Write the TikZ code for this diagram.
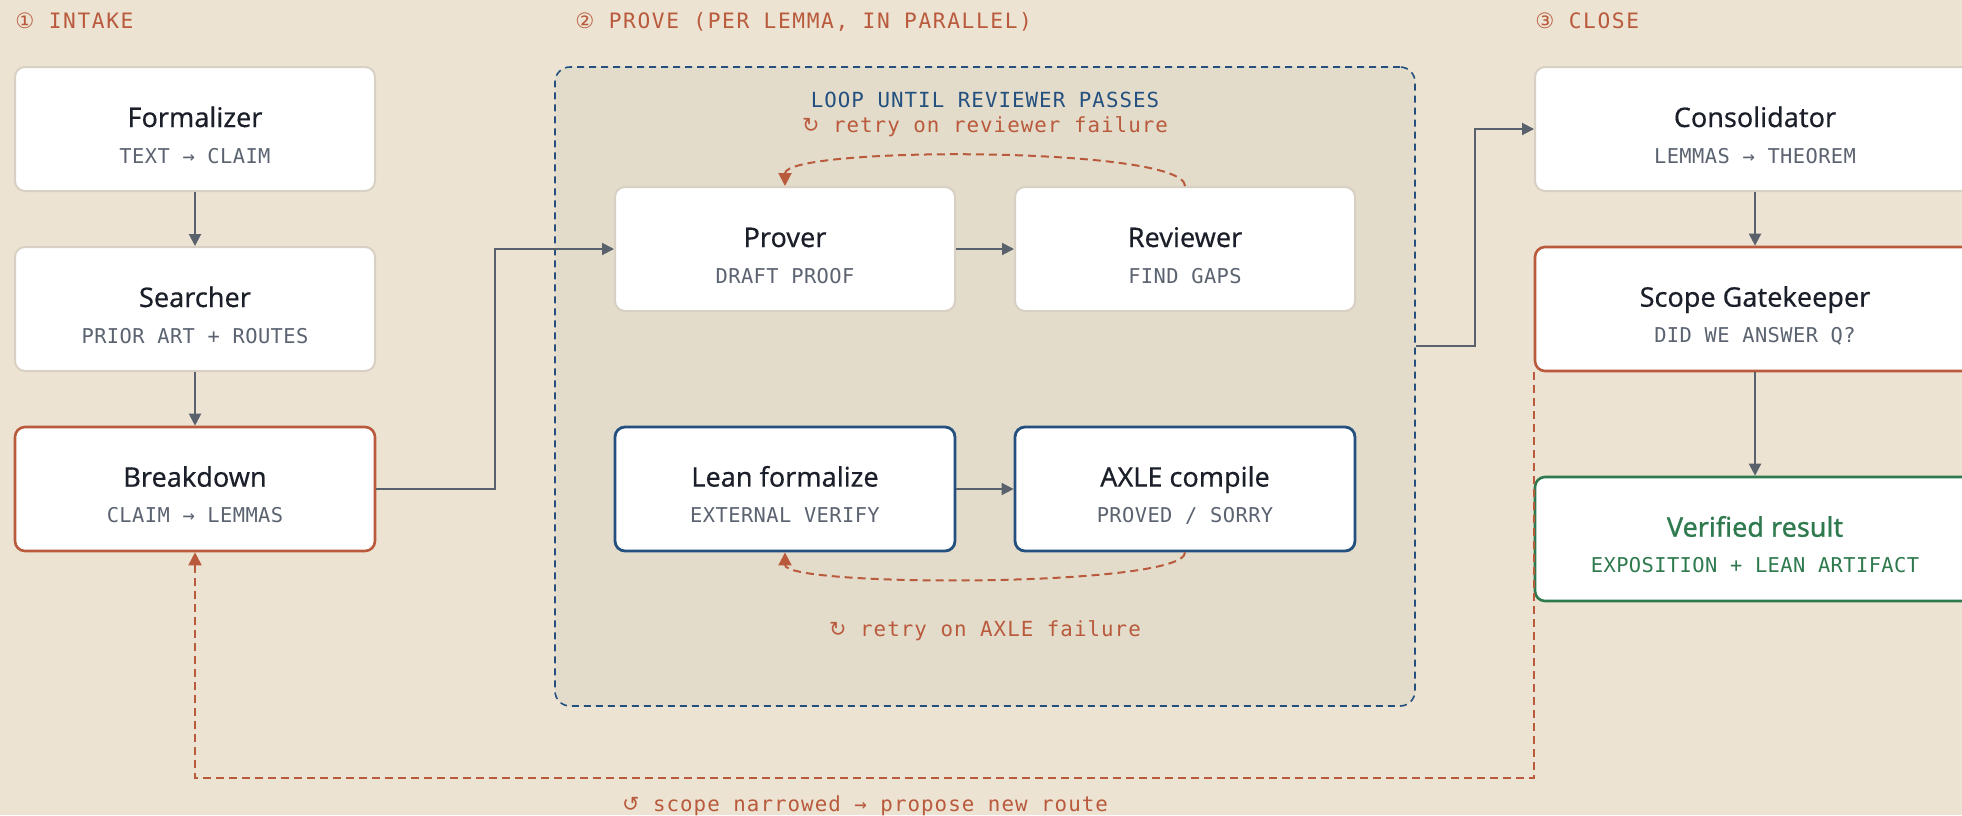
\documentclass[tikz,border=0pt]{standalone}
\usepackage{fontspec}
\setmainfont{Noto Sans}
\newfontfamily\ttlf[FakeBold=0.35]{Noto Sans}
\newfontfamily\grnf[FakeBold=0.9]{Noto Sans}
\newfontfamily\monof[LetterSpace=5]{DejaVu Sans Mono}
\newfontfamily\headf[LetterSpace=7.6]{DejaVu Sans Mono}
\newfontfamily\subf[LetterSpace=2]{DejaVu Sans Mono}
\newfontfamily\symf{DejaVu Sans}
\usetikzlibrary{arrows.meta,calc}
\definecolor{bg}{HTML}{ECE3D3}
\definecolor{cfill}{HTML}{E4DCCB}
\definecolor{cblue}{HTML}{24507F}
\definecolor{corange}{HTML}{B95A3C}
\definecolor{cgreen}{HTML}{2E7A4E}
\definecolor{cgray}{HTML}{59616D}
\definecolor{cborder}{HTML}{D7D0C3}
\definecolor{ctitle}{HTML}{1B1F2A}
\definecolor{csub}{HTML}{5B6371}
\tikzset{
 box/.style={draw=cborder, line width=1pt, fill=white, rounded corners=5pt, minimum width=180pt, minimum height=62pt, inner sep=0pt},
 mid/.style={minimum width=170pt},
 wide/.style={minimum width=220pt},
 obox/.style={box, draw=corange, line width=1.3pt},
 bbox/.style={box, draw=cblue, line width=1.4pt},
 gbox/.style={box, draw=cgreen, line width=1.3pt},
 ttl/.style={anchor=base, inner sep=0pt, text=ctitle, font=\ttlf\fontsize{13.5pt}{16pt}\selectfont},
 sub/.style={anchor=base, inner sep=0pt, text=csub, font=\subf\fontsize{10.2pt}{12pt}\selectfont},
 lbl/.style={inner sep=0pt, font=\monof\fontsize{10.4pt}{12pt}\selectfont},
 head/.style={inner sep=0pt, anchor=base west, text=corange, font=\headf\fontsize{10.6pt}{12pt}\selectfont},
 conn/.style={draw=cgray, line width=1pt, -{Triangle[length=6pt,width=6pt]}},
 retry/.style={draw=corange, line width=1pt, dash pattern=on 4pt off 2.5pt, -{Triangle[length=6.5pt,width=6.5pt]}},
 container/.style={draw=cblue, dash pattern=on 3.5pt off 2.5pt, line width=0.8pt, fill=cfill, rounded corners=7.5pt, minimum width=430pt, minimum height=319.5pt, inner sep=0pt},
}
\newcommand\boxtexts[3]{%
 \node[ttl] (#1-t) at ($(#1.north)+(0,61)$) {#2};
 \node[sub] (#1-s) at ($(#1.north)+(0,97)$) {#3};}
\begin{document}
\begin{tikzpicture}[x=0.5pt,y=-0.5pt]
\useasboundingbox (0,0) rectangle (1962,815);
\clip (0,0) rectangle (1962,815);
\fill[bg] (0,0) rectangle (1962,815);

% headers
\node[head] (h1) at (15,28) {{\symf ①} INTAKE};
\node[head] (h2) at (575,28) {{\symf ②} PROVE (PER LEMMA, IN PARALLEL)};
\node[head] (h3) at (1535,28) {{\symf ③} CLOSE};

% container
\node[container] (container) at (985,386.5) {};
\node[lbl, anchor=base, text=cblue] (loop) at (985,107) {LOOP UNTIL REVIEWER PASSES};
\node[lbl, anchor=base, text=corange] (retry1) at (985,132) {{\symf ↻} retry on reviewer failure};
\node[lbl, anchor=base, text=corange] (retry2) at (985,636) {{\symf ↻} retry on AXLE failure};

% intake column
\node[box] (formalizer) at (195,129) {};
\node[box] (searcher) at (195,309) {};
\node[obox] (breakdown) at (195,489) {};
\boxtexts{formalizer}{Formalizer}{TEXT → CLAIM}
\boxtexts{searcher}{Searcher}{PRIOR ART + ROUTES}
\boxtexts{breakdown}{Breakdown}{CLAIM → LEMMAS}

% prove
\node[box, mid] (prover) at (785,249) {};
\node[box, mid] (reviewer) at (1185,249) {};
\node[bbox, mid] (lean) at (785,489) {};
\node[bbox, mid] (axle) at (1185,489) {};
\boxtexts{prover}{Prover}{DRAFT PROOF}
\boxtexts{reviewer}{Reviewer}{FIND GAPS}
\boxtexts{lean}{Lean formalize}{EXTERNAL VERIFY}
\boxtexts{axle}{AXLE compile}{PROVED / SORRY}

% close
\node[box, wide] (consolidator) at (1755,129) {};
\node[obox, wide] (scope) at (1755,309) {};
\node[gbox, wide] (verified) at (1755,539) {};
\boxtexts{consolidator}{Consolidator}{LEMMAS → THEOREM}
\boxtexts{scope}{Scope Gatekeeper}{DID WE ANSWER Q?}
\node[ttl, text=cgreen, font=\grnf\fontsize{13.5pt}{16pt}\selectfont] (verified-t) at ($(verified.north)+(0,61)$) {Verified result};
\node[sub, text=cgreen] (verified-s) at ($(verified.north)+(0,97)$) {EXPOSITION + LEAN ARTIFACT};

% connectors
\draw[conn] (formalizer) -- (searcher);
\draw[conn] (searcher) -- (breakdown);
\draw[conn] (breakdown.east) -| ($(breakdown.east)!.5!(prover.west)$) |- (prover.west);
\draw[conn] (prover) -- (reviewer);
\draw[conn] (lean) -- (axle);
\coordinate (cout) at ($(container.north east)+(0,280)$);
\draw[conn] (cout) -| ($(cout)!.5!(consolidator.west)$) |- (consolidator.west);
\draw[conn] (consolidator) -- (scope);
\draw[conn] (scope) -- (verified);

% retry loops
\draw[retry] (reviewer.north) .. controls +(0,-40) and +(0,-40) .. (prover.north);
\draw[retry] (axle.south) .. controls +(0,35) and +(0,35) .. (lean.south);
\coordinate (ret) at ($(scope.south west)+(0,406)$);
\draw[retry] (scope.south west) -- (ret) -| (breakdown.south);
\node[lbl, anchor=base, text=corange] (narrow) at (865,811) {{\symf ↺} scope narrowed → propose new route};
\end{tikzpicture}
\end{document}
